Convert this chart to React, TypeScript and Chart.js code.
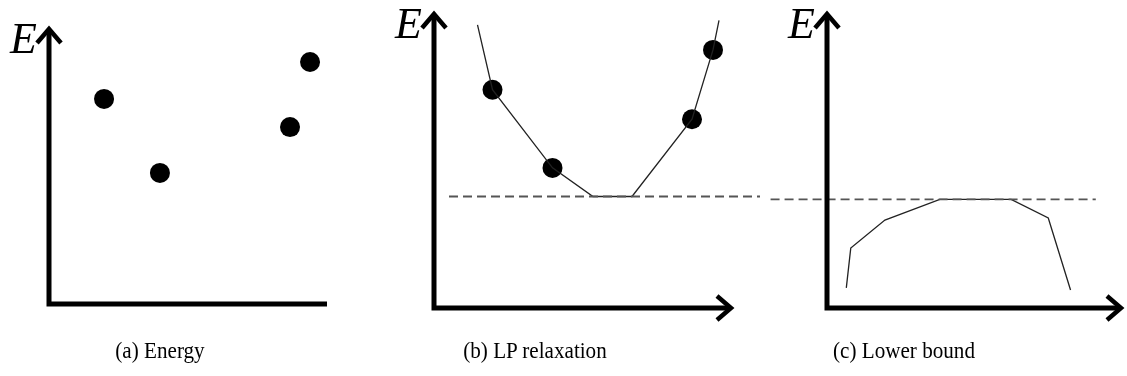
import React, { useEffect, useRef } from "react";
import { Chart, registerables } from "chart.js";

Chart.register(...registerables);

// (a) energies of a few labellings
const energyX = [1.98, 3.99, 8.67, 9.39];
const energyY = [7.43, 4.75, 6.41, 8.77];

// (b) LP relaxation curve and the integral labellings lying on it
const lpCurveX = [1.45, 1.95, 3.95, 5.3, 6.6, 8.6, 9.3, 9.5];
const lpCurveY = [9.6, 7.4, 4.75, 3.78, 3.78, 6.4, 8.75, 9.75];
const lpPointsX = [1.95, 3.95, 8.6, 9.3];
const lpPointsY = [7.4, 4.75, 6.4, 8.75];
const lpOptimum = 3.78;
const lpDashX = [0.5, 10.9];

// (c) dual lower bound, touching the LP optimum
const boundX = [0.65, 0.8, 1.95, 3.8, 6.2, 7.45, 8.2];
const boundY = [0.68, 2.03, 2.98, 3.68, 3.68, 3.05, 0.61];
const boundOptimum = 3.68;
const boundDashX = [-1.9, 9.05];

const captions = ["(a) Energy", "(b) LP relaxation", "(c) Lower bound"];
const axisLabel = "E";

const H = 376;
const INK = "#000";
const CURVE = "#222";
const DASH = "#555";

type Pt = { x: number; y: number };
const pts = (xs: number[], ys: number[]): Pt[] => xs.map((x, i) => ({ x, y: ys[i] }));

type PanelSpec = {
  left: number;
  width: number;
  axis: { left: number; right: number; top: number; bottom: number };
  xArrow: boolean;
  datasets: any[];
  caption: string;
  captionCenter: number;
};

// Draws the two axes (with arrow heads) and the E label from the chart area.
const axesPlugin = {
  id: "sketchAxes",
  afterDraw(chart: any, _args: any, opts: any) {
    const { ctx, chartArea } = chart;
    const { left, right, top, bottom } = chartArea;
    ctx.save();
    ctx.strokeStyle = INK;
    ctx.lineCap = "butt";
    ctx.lineJoin = "miter";
    ctx.lineWidth = 5;
    ctx.beginPath();
    ctx.moveTo(left, top + 4);
    ctx.lineTo(left, bottom);
    ctx.lineTo(opts.xArrow ? right - 4 : right, bottom);
    ctx.stroke();

    ctx.lineWidth = 4.5;
    ctx.beginPath();
    ctx.moveTo(left - 12, top + 17);
    ctx.lineTo(left, top + 3);
    ctx.lineTo(left + 12, top + 17);
    ctx.stroke();
    if (opts.xArrow) {
      ctx.beginPath();
      ctx.moveTo(right - 17, bottom - 12);
      ctx.lineTo(right - 3, bottom);
      ctx.lineTo(right - 17, bottom + 12);
      ctx.stroke();
    }

    ctx.fillStyle = INK;
    ctx.font = 'italic 44px "Liberation Serif"';
    ctx.textAlign = "right";
    ctx.textBaseline = "alphabetic";
    ctx.fillText(axisLabel, left - 12, top + 27);
    ctx.restore();
  },
};

const lineSet = (data: Pt[]) => ({
  data,
  showLine: true,
  borderColor: CURVE,
  borderWidth: 1.3,
  pointRadius: 0,
  clip: false,
});
const dotSet = (data: Pt[]) => ({
  data,
  showLine: false,
  pointRadius: 10,
  pointBackgroundColor: INK,
  pointBorderWidth: 0,
  clip: false,
});
const dashSet = (xs: number[], y: number) => ({
  data: xs.map((x) => ({ x, y })),
  showLine: true,
  borderColor: DASH,
  borderWidth: 1.8,
  borderDash: [9, 5],
  pointRadius: 0,
  clip: false,
});

const panels: PanelSpec[] = [
  {
    left: 0,
    width: 365,
    axis: { left: 49, right: 327, top: 26, bottom: 304 },
    xArrow: false,
    datasets: [dotSet(pts(energyX, energyY))],
    caption: captions[0],
    captionCenter: 160,
  },
  {
    left: 365,
    width: 395,
    axis: { left: 434, right: 734, top: 11, bottom: 308 },
    xArrow: true,
    datasets: [
      dashSet(lpDashX, lpOptimum),
      lineSet(pts(lpCurveX, lpCurveY)),
      dotSet(pts(lpPointsX, lpPointsY)),
    ],
    caption: captions[1],
    captionCenter: 535,
  },
  {
    left: 760,
    width: 367,
    axis: { left: 827, right: 1124, top: 11, bottom: 308 },
    xArrow: true,
    datasets: [dashSet(boundDashX, boundOptimum), lineSet(pts(boundX, boundY))],
    caption: captions[2],
    captionCenter: 904,
  },
];

function Panel({ spec }: { spec: PanelSpec }) {
  const ref = useRef<HTMLCanvasElement>(null);
  useEffect(() => {
    if (!ref.current) return;
    const { axis } = spec;
    // chart area = axis box, value range 0..10 in both directions
    const padding = {
      left: axis.left - spec.left,
      right: spec.left + spec.width - axis.right,
      top: axis.top,
      bottom: H - axis.bottom,
    };
    // y values are measured from the shaft origin to just below the arrow tip
    const yTop = (10 * (axis.bottom - axis.top)) / (axis.bottom - axis.top - 2);
    const chart = new Chart(ref.current, {
      type: "scatter",
      data: { datasets: spec.datasets },
      options: {
        responsive: false,
        animation: false,
        events: [],
        layout: { padding },
        scales: {
          x: { type: "linear", display: false, min: 0, max: 10 },
          y: { type: "linear", display: false, min: 0, max: yTop },
        },
        plugins: {
          legend: { display: false },
          tooltip: { enabled: false },
          sketchAxes: { xArrow: spec.xArrow },
        } as any,
      },
      plugins: [axesPlugin],
    });
    return () => chart.destroy();
  }, [spec]);

  return (
    <>
      <canvas
        ref={ref}
        width={spec.width}
        height={H}
        style={{ position: "absolute", left: spec.left, top: 0, width: spec.width, height: H }}
      />
      <div
        style={{
          position: "absolute",
          left: spec.captionCenter - 150,
          width: 300,
          top: 338,
          textAlign: "center",
          fontFamily: '"Liberation Serif", serif',
          fontSize: 24,
          lineHeight: "24px",
          color: "#000",
          whiteSpace: "nowrap",
          transform: "scaleX(0.88)",
          transformOrigin: "50% 50%",
        }}
      >
        {spec.caption}
      </div>
    </>
  );
}

export default function App() {
  return (
    <div
      style={{
        position: "absolute",
        left: 0,
        top: 0,
        width: 1127,
        height: H,
        background: "#fff",
        overflow: "hidden",
      }}
    >
      {panels.map((p) => (
        <Panel key={p.caption} spec={p} />
      ))}
    </div>
  );
}
